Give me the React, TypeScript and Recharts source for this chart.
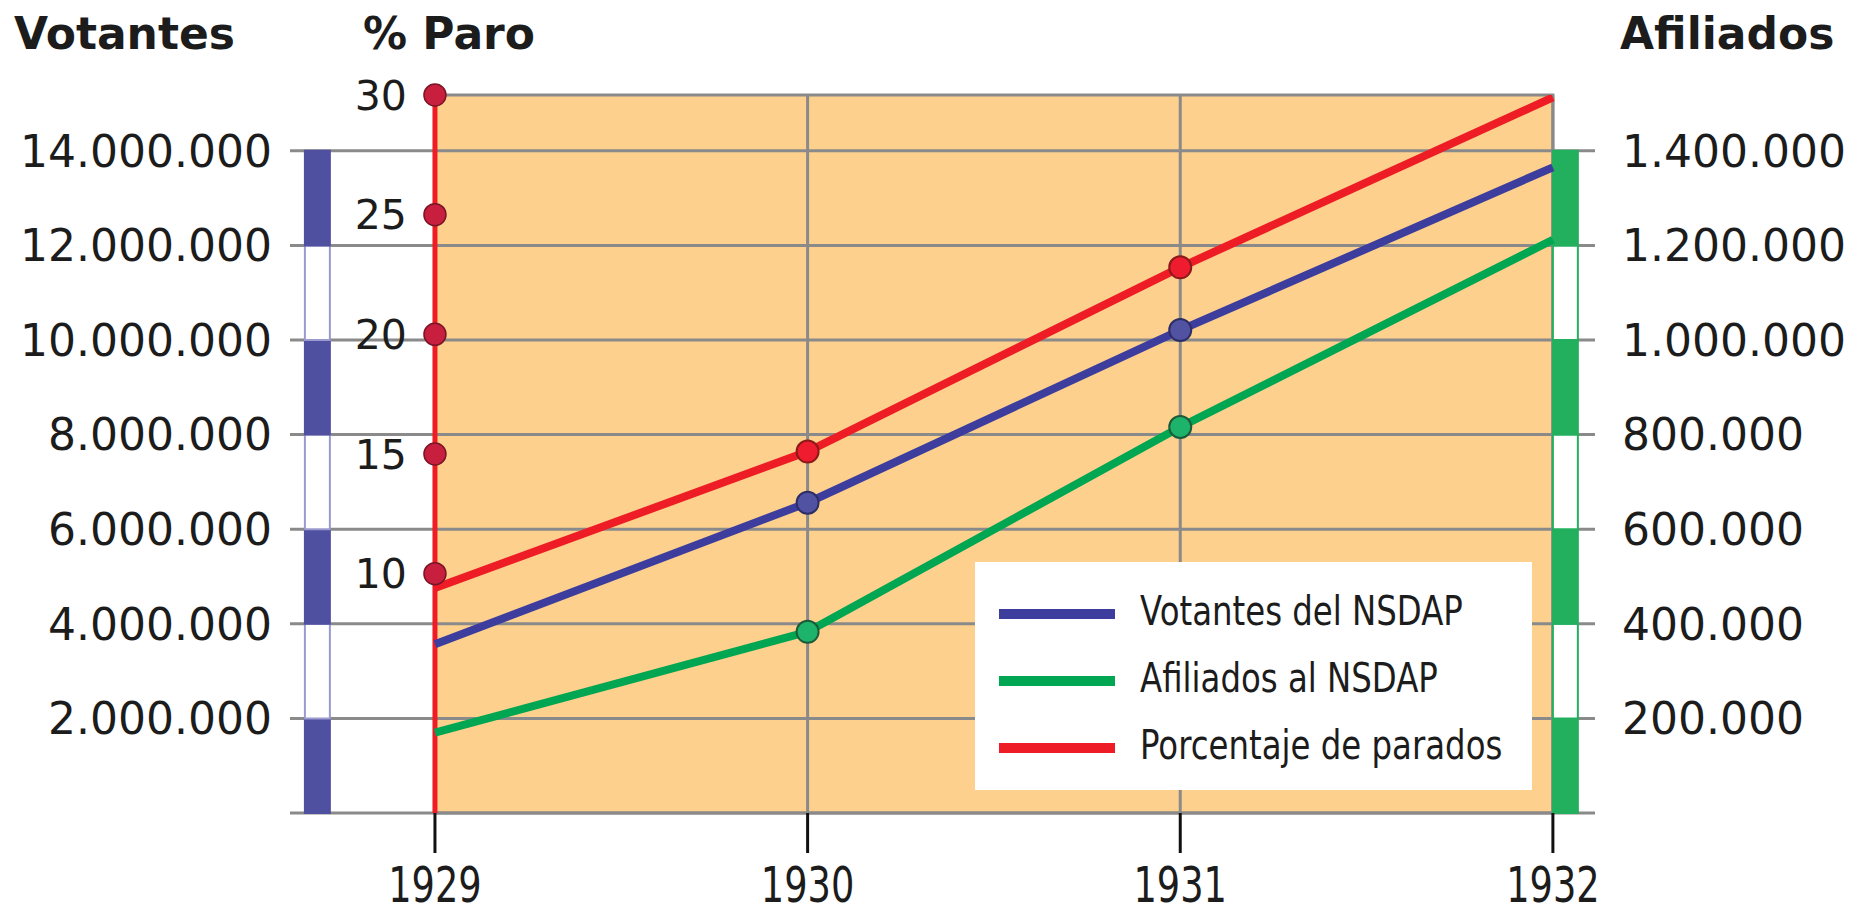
import React from 'react'
import {
  ComposedChart,
  Line,
  XAxis,
  YAxis,
  ReferenceArea,
  ReferenceLine,
  ReferenceDot,
  Legend,
} from 'recharts'

const years = [1929, 1930, 1931, 1932]
const votantes = [3570000, 6560000, 10210000, 13650000]
const afiliados = [170000, 383000, 816000, 1212000]
const paro = [9.4, 15.1, 22.8, 29.9]

const votosTicks = [0, 2000000, 4000000, 6000000, 8000000, 10000000, 12000000, 14000000]
const afiliadosTicks = [0, 200000, 400000, 600000, 800000, 1000000, 1200000, 1400000]
const paroTicks = [10, 15, 20, 25, 30]
const seriesNames = ['Votantes del NSDAP', 'Afiliados al NSDAP', 'Porcentaje de parados']

const data = years.map((year, i) => ({
  year,
  votantes: votantes[i],
  afiliados: afiliados[i],
  paro: paro[i],
}))

const FONT = '"DejaVu Sans", Verdana, sans-serif'
const TEXT = '#1c1c1c'
const GRID = '#8a8a8a'
const ORANGE = '#fdd08e'
const RED = '#ee1c24'
const BLUE = '#3d3d9e'
const BLUE_RULER = '#5050a0'
const GREEN = '#00a651'
const GREEN_RULER = '#22b05e'

// the x domain runs a bit past the first and last year so the rulers sit inside the plot
const X_DOMAIN: [number, number] = [1928.611, 1932.113]
const LEFT_RULER_X = [1928.651, 1928.718]
const RIGHT_RULER_X = [1932, 1932.067]

const fmt = (v: number) => String(v).replace(/\B(?=(\d{3})+(?!\d))/g, '.')

const makeDot = (fill: string, stroke: string) => (props: any) => {
  const { cx, cy, payload, index } = props
  if (payload.year === years[0] || payload.year === years[years.length - 1]) return <g key={index} />
  return <circle key={index} cx={cx} cy={cy} r={11} fill={fill} stroke={stroke} strokeWidth={2} />
}

const rulerBands = (ticks: number[], yAxisId: string, xs: number[], color: string, edge: string) =>
  ticks.slice(0, -1).map((t, i) => (
    <ReferenceArea
      key={`${yAxisId}-${t}`}
      yAxisId={yAxisId}
      x1={xs[0]}
      x2={xs[1]}
      y1={t}
      y2={ticks[i + 1]}
      fill={i % 2 === 0 ? color : '#ffffff'}
      fillOpacity={1}
      stroke={i % 2 === 0 ? color : edge}
      strokeWidth={2}
      ifOverflow='visible'
      zIndex={-50}
    />
  ))

const LeftTick = (props: any) => {
  const { x, y, payload } = props
  if (payload.value === 0) return <g />
  return (
    <text x={x} y={y} dy='0.36em' textAnchor='end' fontSize={44} fontFamily={FONT} fill={TEXT}>
      {fmt(payload.value)}
    </text>
  )
}

const RightTick = (props: any) => {
  const { x, y, payload } = props
  if (payload.value === 0) return <g />
  return (
    <text x={x} y={y} dy='0.36em' textAnchor='start' fontSize={44} fontFamily={FONT} fill={TEXT}>
      {fmt(payload.value)}
    </text>
  )
}

const YearTick = (props: any) => {
  const { x, y, payload } = props
  return (
    <g transform={`translate(${x},${y + 49})`}>
      <text transform='scale(0.75,1)' textAnchor='middle' fontSize={49} fontFamily={FONT} fill={TEXT}>
        {payload.value}
      </text>
    </g>
  )
}

const axisTitle = (text: string, dx: number) => (props: any) => {
  const vb = props.viewBox ?? { x: 0, y: 95 }
  return (
    <text x={vb.x + dx} y={vb.y - 46} fontSize={44} fontWeight='bold' fontFamily={FONT} fill={TEXT}>
      {text}
    </text>
  )
}

const LegendBox = (props: any) => {
  const entries = [...(props.payload ?? [])].sort(
    (a, b) => seriesNames.indexOf(a.value) - seriesNames.indexOf(b.value)
  )
  return (
    <svg width={557} height={228} style={{ display: 'block' }}>
      <rect width={557} height={228} fill='#ffffff' />
      {entries.map((entry, i) => {
        const cy = 52 + i * 67
        return (
          <g key={entry.value}>
            <line x1={24} x2={140} y1={cy} y2={cy} stroke={entry.color} strokeWidth={10} />
            <text
              transform={`translate(165,${cy + 11}) scale(0.79,1)`}
              fontSize={41}
              fontFamily={FONT}
              fill={TEXT}
            >
              {entry.value}
            </text>
          </g>
        )
      })}
    </svg>
  )
}

export default function App() {
  return (
    <div style={{ position: 'absolute', left: 0, top: 0, background: '#fff' }}>
      <ComposedChart width={1864} height={915} data={data} margin={{ top: 95, right: 0, bottom: 0, left: 0 }}>
        <ReferenceArea
          yAxisId='paro'
          x1={years[0]}
          x2={years[years.length - 1]}
          y1={0}
          y2={30}
          fill={ORANGE}
          fillOpacity={1}
          stroke={GRID}
          strokeWidth={3}
          zIndex={-150}
        />
        {votosTicks.map((t) => (
          <ReferenceLine key={`h-${t}`} yAxisId='votos' y={t} stroke={GRID} strokeWidth={3} zIndex={-100} />
        ))}
        {years.slice(1).map((yr) => (
          <ReferenceLine key={`v-${yr}`} yAxisId='votos' x={yr} stroke={GRID} strokeWidth={3} zIndex={-100} />
        ))}
        <XAxis
          dataKey='year'
          type='number'
          domain={X_DOMAIN}
          allowDataOverflow
          ticks={years}
          interval={0}
          axisLine={false}
          tickLine={{ stroke: '#111', strokeWidth: 3 }}
          tickSize={40}
          tickMargin={0}
          height={102}
          tick={<YearTick />}
        />
        <YAxis
          yAxisId='votos'
          orientation='left'
          width={290}
          domain={[0, 15180000]}
          allowDataOverflow
          ticks={votosTicks}
          interval={0}
          axisLine={false}
          tickLine={false}
          tickSize={0}
          tickMargin={18}
          tick={<LeftTick />}
          label={{ content: axisTitle('Votantes', 14) }}
        />
        <YAxis yAxisId='paro' hide width={0} domain={[0, 30]} allowDataOverflow />
        <YAxis
          yAxisId='afiliados'
          orientation='right'
          width={269}
          domain={[0, 1518000]}
          allowDataOverflow
          ticks={afiliadosTicks}
          interval={0}
          axisLine={false}
          tickLine={false}
          tickSize={0}
          tickMargin={27}
          tick={<RightTick />}
          label={{ content: axisTitle('Afiliados', 25) }}
        />
        {rulerBands(votosTicks, 'votos', LEFT_RULER_X, BLUE_RULER, '#9a9ad0')}
        {rulerBands(afiliadosTicks, 'afiliados', RIGHT_RULER_X, GREEN_RULER, GREEN_RULER)}
        <ReferenceLine
          yAxisId='paro'
          x={years[0]}
          stroke={RED}
          strokeWidth={5}
          label={{ content: axisTitle('% Paro', -72) }}
        />
        <Line
          yAxisId='votos'
          dataKey='votantes'
          name={seriesNames[0]}
          stroke={BLUE}
          strokeWidth={8}
          dot={makeDot('#5252a3', '#2e2e66')}
          activeDot={false}
          isAnimationActive={false}
        />
        <Line
          yAxisId='afiliados'
          dataKey='afiliados'
          name={seriesNames[1]}
          stroke={GREEN}
          strokeWidth={8}
          dot={makeDot('#1db36a', '#1d5a3a')}
          activeDot={false}
          isAnimationActive={false}
        />
        <Line
          yAxisId='paro'
          dataKey='paro'
          name={seriesNames[2]}
          stroke={RED}
          strokeWidth={8}
          dot={makeDot('#ee1c2e', '#8b1a1a')}
          activeDot={false}
          isAnimationActive={false}
        />
        {paroTicks.map((v) => (
          <ReferenceDot
            key={v}
            yAxisId='paro'
            x={years[0]}
            y={v}
            r={11}
            fill='#c81f3f'
            stroke='#7a1525'
            strokeWidth={1.5}
            ifOverflow='visible'
            label={{ value: v, position: 'left', offset: 17, fontSize: 41, fontFamily: FONT, fill: TEXT }}
          />
        ))}
        <Legend
          layout='horizontal'
          verticalAlign='middle'
          align='center'
          wrapperStyle={{ left: 975, top: 562, width: 557, height: 228 }}
          content={<LegendBox />}
        />
      </ComposedChart>
    </div>
  )
}
